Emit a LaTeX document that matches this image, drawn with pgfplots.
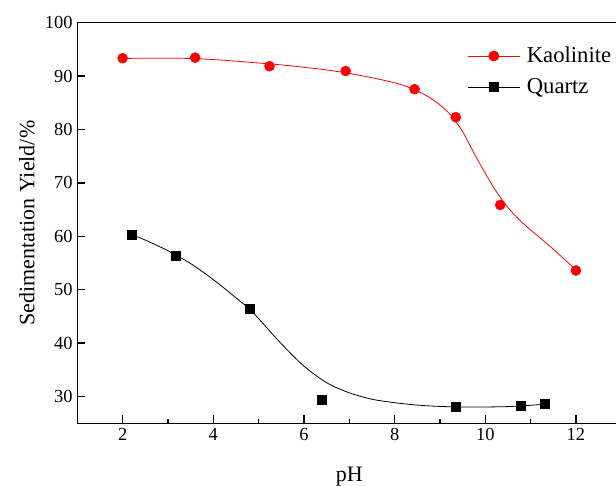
\documentclass[border=0pt]{standalone}
\usepackage{fontspec}
\setmainfont{Liberation Serif}
\usepackage{pgfplots}
\pgfplotsset{compat=1.18}
\begin{document}
\begin{tikzpicture}
\begin{axis}[
  scale only axis, width=408pt, height=300.45pt,
  xmin=1, xmax=13, ymin=25, ymax=100,
  xtick={2,4,...,12}, minor xtick={1,3,...,13},
  ytick={30,40,...,100},
  tick align=inside, xtick pos=bottom, ytick pos=left,
  major tick length=6pt, minor tick length=3.5pt,
  axis line style={line width=1pt}, tick style={line width=1pt, black},
  tick label style={font=\fontsize{13.8}{16}\selectfont},
  /pgf/number format/assume math mode=true,
  xlabel={pH}, ylabel={Sedimentation Yield/\%},
  label style={font=\fontsize{16.5}{19}\selectfont},
  x label style={at={(axis description cs:0.5,-0.133)}, anchor=center},
  y label style={at={(axis description cs:-0.0925,0.5)}, anchor=center, rotate=0},
  legend image code/.code={\draw[mark repeat=2,mark phase=2,#1] plot coordinates {(0pt,0pt) (19.5pt,0pt) (39pt,0pt)};},
  legend style={draw=none, fill=none, at={(axis cs:9.6,96.1)}, anchor=north west,
    font=\fontsize{17}{19}\selectfont, inner sep=0pt, row sep=5.5pt, column sep=2.5pt,
    nodes={inner sep=2.5pt}},
  legend cell align=left,
]
\addplot[red, line width=0.6pt, smooth, forget plot] coordinates {
(2,93.3) (2.5,93.35) (3,93.35) (3.5,93.3) (4,93.1) (4.5,92.8) (5,92.45) (5.5,92.1) (6,91.65) (6.5,91.15) (7,90.5) (7.5,89.7) (8,88.75) (8.25,88.1) (8.5,87.2) (8.75,86.1) (9,84.6) (9.25,82.6) (9.5,79.6) (9.75,75.6) (10,71.8) (10.25,68.3) (10.5,65.4) (10.75,63.1) (11,61.2) (11.5,57.6) (12,53.7)};
\addplot[only marks, mark=*, red, mark size=3.75pt, forget plot] coordinates {
(2.0,93.35) (3.6,93.45) (5.24,91.85) (6.92,90.95) (8.44,87.55) (9.35,82.3) (10.33,65.87) (12.0,53.6)};
\addplot[black, line width=0.6pt, smooth, forget plot] coordinates {
(2.21,60.26) (2.5,59.3) (3,57.3) (3.5,54.9) (4,51.9) (4.5,48.5) (4.81,46.3) (5,44.6) (5.5,39.9) (6,35.7) (6.5,32.6) (7,30.7) (7.5,29.5) (8,28.85) (8.5,28.4) (9,28.15) (9.5,28.05) (10,28.05) (10.5,28.12) (10.79,28.25) (11.31,28.55)};
\addplot[only marks, mark=square*, black, mark size=3.4pt, forget plot] coordinates {
(2.21,60.26) (3.18,56.4) (4.81,46.4) (6.40,29.4) (9.34,28.04) (10.79,28.3) (11.31,28.6)};
\addlegendimage{red, line width=0.6pt, mark=*, mark size=3.75pt}
\addlegendentry{Kaolinite}
\addlegendimage{black, line width=0.6pt, mark=square*, mark size=3.4pt}
\addlegendentry{Quartz}
\coordinate (bl) at (axis cs:-0.705,13.26);
\coordinate (tr) at (axis cs:12.884,104.25);
\end{axis}
\pgfresetboundingbox
\useasboundingbox (bl) rectangle (tr);
\end{tikzpicture}
\end{document}
